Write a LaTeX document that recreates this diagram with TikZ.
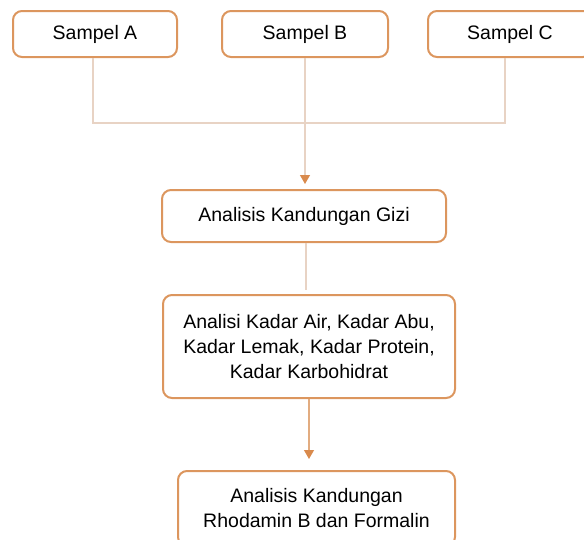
\documentclass[tikz,border=0pt]{standalone}
\usepackage{fontspec}
\setmainfont{Liberation Sans}
\usetikzlibrary{arrows.meta}
\definecolor{boxline}{HTML}{DC965E}
\definecolor{paleline}{HTML}{E8D3C4}
\definecolor{arrowline}{HTML}{E2AC80}
\definecolor{tipcol}{HTML}{D98A4C}
\tikzset{
  box/.style={draw=boxline, line width=2pt, rounded corners=9pt, fill=white,
    align=center, inner sep=2pt, font=\fontsize{19.5}{25}\selectfont},
  pale/.style={draw=paleline, line width=1.1pt},
  tipped/.style={-{Triangle[width=10pt,length=9pt,color=tipcol,fill=tipcol]}}
}
\begin{document}
\begin{tikzpicture}[x=1pt,y=-1pt]
\useasboundingbox (0,0) rectangle (584,539);
\node[box, minimum width=164pt, minimum height=46pt] (A) at (95,34) {Sampel A};
\node[box, minimum width=166pt, minimum height=46pt] (B) at (305,34) {Sampel B};
\node[box, minimum width=164pt, minimum height=46pt] (C) at (510,34) {Sampel C};
\node[box, minimum width=284pt, minimum height=52pt] (G) at (304,216) {Analisis Kandungan Gizi};
\node[box, minimum width=292pt, minimum height=103pt] (K) at (309,346.5) {Analisi Kadar Air, Kadar Abu,\\Kadar Lemak, Kadar Protein,\\Kadar Karbohidrat};
\node[box, minimum width=277pt, minimum height=75pt] (R) at (316.5,508.5) {Analisis Kandungan\\Rhodamin B dan Formalin};
\coordinate (J) at (305,123);
\draw[pale] ([xshift=-2pt]A.south) |- (J) -| ([xshift=-5pt]C.south);
\draw[pale, tipped, shorten >=5pt] (B.south) -- (B.south |- G.north);
\coordinate (G1) at ([xshift=2pt]G.south);
\coordinate (G2) at ([yshift=4pt]G1 |- K.north);
\draw[pale] (G1) -- (G2);
\draw[draw=arrowline, line width=1.1pt, tipped, shorten >=11pt]
  (K.south) -- (K.south |- R.north);
\end{tikzpicture}
\end{document}
